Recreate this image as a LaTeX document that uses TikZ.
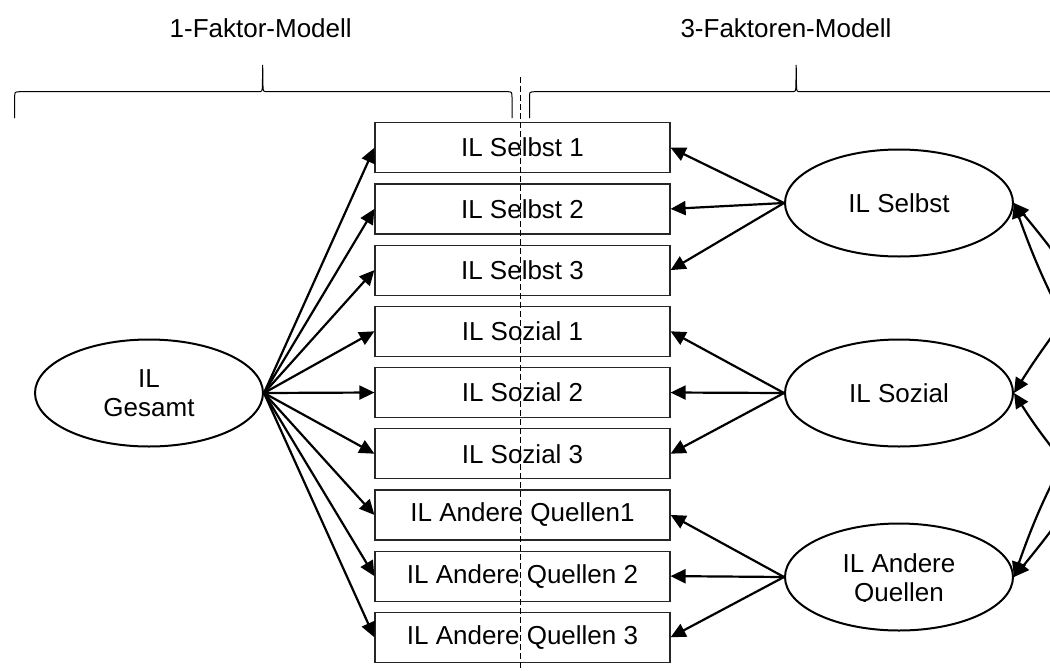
\documentclass[tikz,border=0pt]{standalone}
\usepackage{fontspec}
\setmainfont{Liberation Sans}
\usetikzlibrary{shapes.geometric,arrows.meta}
\begin{document}
\begin{tikzpicture}[x=1pt,y=-1pt,
  lbl/.style={font=\fontsize{26}{29}\selectfont},
  item/.style={draw=black!85, line width=1.2pt, minimum width=295pt, minimum height=50pt, inner sep=0pt, lbl},
  latent/.style={ellipse, draw, line width=2pt, minimum width=228pt, minimum height=107pt, inner sep=0pt, align=center, lbl},
  tip/.style={},
  load/.style={line width=2.2pt, -{Triangle[length=15pt,width=14pt]}},
  cov/.style={line width=2.2pt, {Triangle[length=15pt,width=14pt]}-{Triangle[length=15pt,width=14pt]}},
  bracepath/.style={line width=1pt},
  divider/.style={line width=0.9pt, dash pattern=on 6pt off 3pt}
]
\useasboundingbox (0,0) rectangle (1050,670);
\clip (0,0) rectangle (1050,670);

% titles
\node[lbl, inner sep=0pt] (t1) at (260.7,28) {1-Faktor-Modell};
\node[lbl, inner sep=0pt] (t3) at (786,28) {3-Faktoren-Modell};

% braces
\draw[bracepath] (14.7,118) -- (14.7,97) .. controls (14.7,92) .. (19.5,91.7) -- (257.5,91.7) .. controls (262.2,91.7) .. (262.4,86) -- (262.7,65) -- (263,86) .. controls (263.2,91.7) .. (268,91.7) -- (507,91.7) .. controls (511.8,91.7) .. (512,97) -- (512,118);
\draw[bracepath] (529.5,118) -- (529.5,97) .. controls (529.5,92) .. (534.5,91.7) -- (791,91.7) .. controls (795.7,91.7) .. (795.9,86) -- (796.2,65) -- (796.5,86) .. controls (796.7,91.7) .. (801.5,91.7) -- (1060,91.7);

% items
\foreach \i/\t in {0/IL Selbst 1,1/IL Selbst 2,2/IL Selbst 3,3/IL Sozial 1,4/IL Sozial 2,5/IL Sozial 3,6/IL Andere Quellen1,7/IL Andere Quellen 2,8/IL Andere Quellen 3}
  \node[item] (b\i) at (522.5,{147.7+61.2*\i}) {\t};

% latent variables
\node[latent] (ges) at (149,393) {IL\\Gesamt};
\node[latent] (sel) at (899,203) {IL Selbst};
\node[latent] (soz) at (899,393) {IL Sozial};
\node[latent] (aq) at (899,577) {};
\begin{scope}
  \clip (780,520) rectangle (1020,601.5);
  \node[lbl, align=center, inner sep=0pt] (aqtext) at (899,580) {IL Andere\\Quellen};
\end{scope}

% loadings, 1-factor model
\foreach \i in {0,...,8}
  \draw[load] (ges.east) -- (b\i.west);

% loadings, 3-factor model
\foreach \i in {0,1,2}
  \draw[load] (sel.west) -- (b\i.east);
\foreach \i in {3,4,5}
  \draw[load] (soz.west) -- (b\i.east);
\foreach \i in {6,7,8}
  \draw[load] (aq.west) -- (b\i.east);

% covariances
\draw[cov] (sel.east) .. controls (1067,353) and (1078,291) .. (soz.east);
\draw[cov] (soz.east) .. controls (1078,493) and (1067,425) .. (aq.east);
\draw[cov] (sel.east) .. controls (1142,356) and (1142,422) .. (aq.east);

% divider
\coordinate (dtop) at (520,77);
\coordinate (dbot) at (520,670);
\draw[divider] (dtop) -- (dbot);
\end{tikzpicture}
\end{document}
